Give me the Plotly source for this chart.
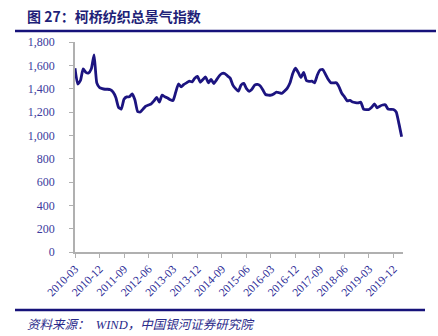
import pandas as pd
import plotly.graph_objects as go

months = [p.strftime("%Y-%m") for p in pd.period_range("2010-03", "2020-03", freq="M")]
index_values = [
    1575, 1440, 1470, 1570, 1540, 1535, 1570, 1690, 1450, 1410,
    1400, 1395, 1395, 1390, 1370, 1325, 1240, 1225, 1310, 1330,
    1330, 1355, 1305, 1205, 1200, 1225, 1250, 1260, 1270, 1295,
    1325, 1285, 1345, 1330, 1320, 1305, 1298, 1370, 1440, 1415,
    1436, 1450, 1464, 1458, 1490, 1505, 1455, 1479, 1500, 1450,
    1479, 1444, 1475, 1510, 1530, 1530, 1510, 1490, 1430, 1400,
    1378, 1430, 1445, 1400, 1378, 1395, 1430, 1436, 1425, 1390,
    1350, 1345, 1344, 1355, 1370, 1365, 1359, 1380, 1405, 1450,
    1530, 1575, 1540, 1495, 1540, 1470, 1462, 1464, 1450, 1515,
    1560, 1565, 1525, 1480, 1450, 1450, 1450, 1415, 1360, 1330,
    1295, 1300, 1285, 1280, 1278, 1284, 1225, 1220, 1222, 1240,
    1270, 1236, 1250, 1260, 1262, 1225, 1222, 1221, 1200, 1100,
    988,
]
x_ticks = months[::9]
y_ticks = [0, 200, 400, 600, 800, 1000, 1200, 1400, 1600, 1800]
y_ticktext = ["0", "200", "400", "600", "800", "1,000", "1,200", "1,400", "1,600", "1,800"]

title_text = "图 27：柯桥纺织总景气指数"
source_text = "资料来源：  WIND，中国银河证券研究院"

navy = "#1c1480"
label_col = "#3b3b9e"
serif = "Liberation Serif, Noto Sans CJK SC, serif"

fig = go.Figure()
fig.add_trace(go.Scatter(
    x=months, y=index_values, mode="lines",
    line=dict(color=navy, width=2.8, shape="spline", smoothing=0.5),
    hoverinfo="skip", showlegend=False,
))

fig.update_layout(
    width=438, height=336,
    margin=dict(l=75, r=35, t=42, b=84),
    paper_bgcolor="white", plot_bgcolor="white",
    font=dict(family=serif, color=label_col, size=12),
    showlegend=False,
)
fig.update_xaxes(
    type="category", categoryorder="array", categoryarray=months,
    range=[0, len(months) - 0.5],
    tickmode="array", tickvals=x_ticks, ticktext=x_ticks,
    tickangle=-45, tickfont=dict(family=serif, size=11.5, color="#2a2a96"),
    showline=True, linecolor="#b0b0b0", linewidth=1.5,
    ticks="outside", ticklen=4, tickcolor="#b0b0b0",
    showgrid=False, zeroline=False,
)
fig.update_yaxes(
    range=[0, 1800],
    tickmode="array", tickvals=y_ticks, ticktext=y_ticktext,
    tickfont=dict(family=serif, size=12, color=label_col),
    showline=True, linecolor="#b0b0b0", linewidth=1.5,
    ticks="outside", ticklen=4, tickcolor="#b0b0b0",
    ticklabelstandoff=12,
    showgrid=False, zeroline=False,
)

fig.add_annotation(
    text="<b>" + title_text + "</b>", xref="paper", yref="paper",
    x=(25 - 75) / 328, y=1 + (42 - 16) / 210, xanchor="left", yanchor="middle",
    showarrow=False, font=dict(family="Noto Sans CJK SC", size=14, color="#1f1f78"),
)
fig.add_shape(type="line", xref="paper", yref="paper",
              x0=(15 - 75) / 328, x1=(436 - 75) / 328,
              y0=1 + (42 - 31) / 210, y1=1 + (42 - 31) / 210,
              line=dict(color="#16127a", width=2.5))
fig.add_shape(type="line", xref="paper", yref="paper",
              x0=(15 - 75) / 328, x1=(425 - 75) / 328,
              y0=-(310 - 252) / 210, y1=-(310 - 252) / 210,
              line=dict(color="#16127a", width=2.5))
fig.add_annotation(
    text="<i>" + source_text + "</i>", xref="paper", yref="paper",
    x=(25 - 75) / 328, y=-(325 - 252) / 210, xanchor="left", yanchor="middle",
    showarrow=False, font=dict(family=serif, size=12.5, color="#2a2a8a"),
)

fig.write_html("out.html")
